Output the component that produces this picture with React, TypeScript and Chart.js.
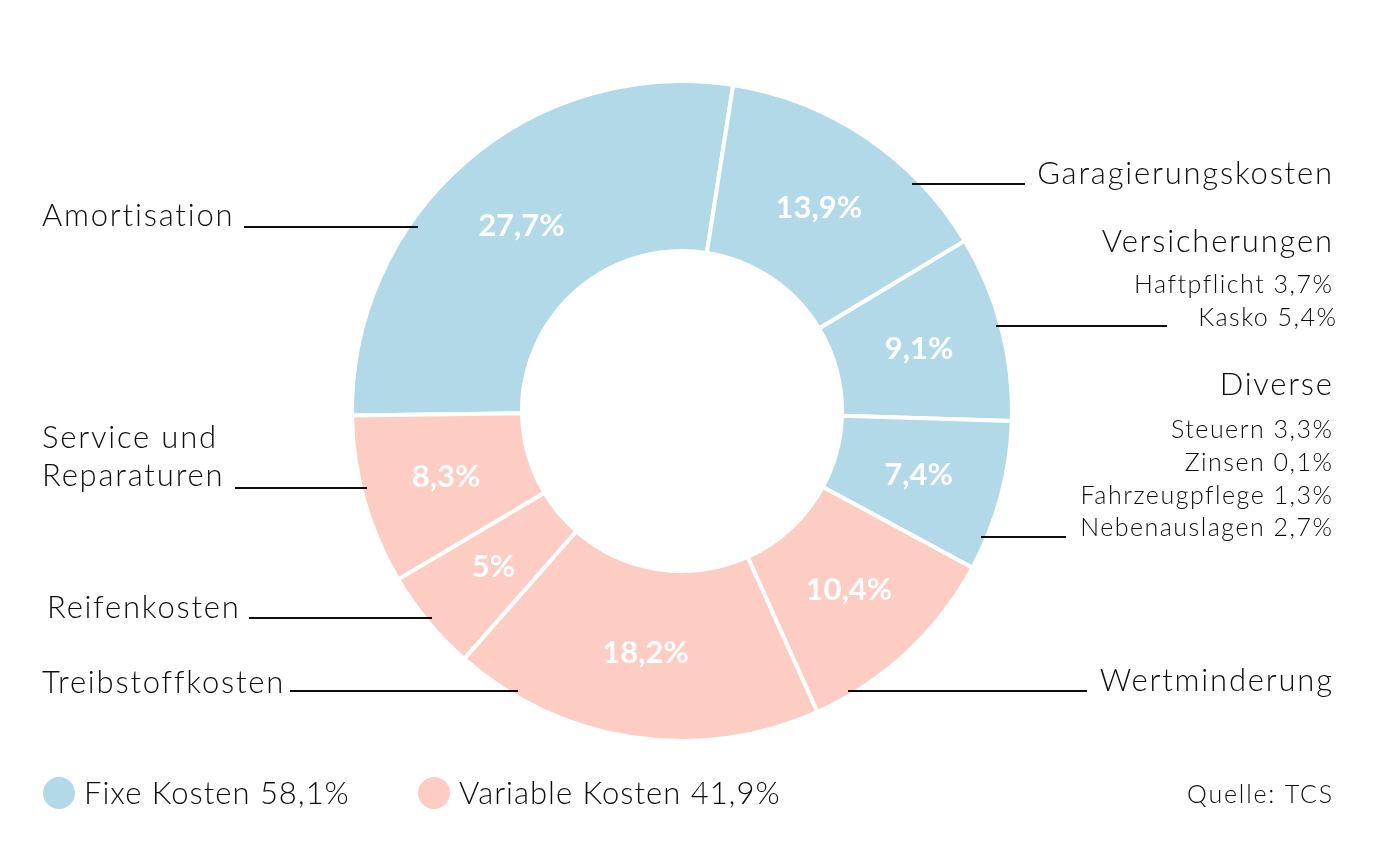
import React, { useEffect, useRef } from "react";
import { Chart, registerables } from "chart.js";

Chart.register(...registerables);

// Kostenanteile eines Autos (in %), im Uhrzeigersinn ab 9 Uhr
const categories = [
  "Amortisation",
  "Garagierungskosten",
  "Versicherungen",
  "Diverse",
  "Wertminderung",
  "Treibstoffkosten",
  "Reifenkosten",
  "Service und Reparaturen",
];
const shares = [27.7, 13.9, 9.1, 7.4, 10.4, 18.2, 5, 8.3];
// 0 = fixe Kosten, 1 = variable Kosten
const groupOf = [0, 0, 0, 0, 1, 1, 1, 1];

const groupNames = ["Fixe Kosten", "Variable Kosten"];
const groupTotals = [58.1, 41.9];

const versicherungDetails = ["Haftpflicht", "Kasko"];
const versicherungValues = [3.7, 5.4];
const diverseDetails = ["Steuern", "Zinsen", "Fahrzeugpflege", "Nebenauslagen"];
const diverseValues = [3.3, 0.1, 1.3, 2.7];

const sourceText = "Quelle: TCS";

const groupColors = ["#b1d9e8", "#fdcdc3"];
const FONT = "Lato, 'Open Sans', sans-serif";
const INK = "#0d0d0d";

const pct = (v: number) => String(v).replace(".", ",") + "%";

// Placement of the outside captions and their leader lines
type Caption = {
  lines: string[];
  align: "left" | "right";
  x: number;
  y: number;
  lineY: number;
  lineX1: number;
  lineX2: number;
};

const captionLayout: Caption[] = [
  { lines: ["Amortisation"], align: "left", x: 42, y: 216, lineY: 227, lineX1: 244, lineX2: 418 },
  { lines: ["Garagierungskosten"], align: "right", x: 1332, y: 174, lineY: 184, lineX1: 912, lineX2: 1025 },
  { lines: ["Versicherungen"], align: "right", x: 1332, y: 242, lineY: 326, lineX1: 996, lineX2: 1167 },
  { lines: ["Diverse"], align: "right", x: 1332, y: 385, lineY: 537, lineX1: 981, lineX2: 1066 },
  { lines: ["Wertminderung"], align: "right", x: 1332, y: 681, lineY: 691, lineX1: 848, lineX2: 1087 },
  { lines: ["Treibstoffkosten"], align: "left", x: 42, y: 683, lineY: 691, lineX1: 290, lineX2: 518 },
  { lines: ["Reifenkosten"], align: "left", x: 47, y: 608, lineY: 618, lineX1: 249, lineX2: 432 },
  { lines: ["Service und", "Reparaturen"], align: "left", x: 42, y: 438, lineY: 488, lineX1: 235, lineX2: 367 },
];

const versicherungRows = [285, 318];
const diverseRows = [430, 463, 496, 528];

// text with letter spacing; right-aligned text is shifted so the last glyph ends at x
function spacedText(ctx: any, text: string, x: number, y: number, spacing: number) {
  ctx.letterSpacing = `${spacing}px`;
  const shift = ctx.textAlign === "right" ? spacing : 0;
  ctx.fillText(text, x + shift, y);
  ctx.letterSpacing = "0px";
}

const captionPlugin = {
  id: "captions",
  afterDraw(chart: any) {
    const ctx: CanvasRenderingContext2D = chart.ctx;
    const arcs = chart.getDatasetMeta(0).data;
    ctx.save();

    // values inside the ring
    ctx.fillStyle = "#ffffff";
    ctx.font = `700 31px ${FONT}`;
    ctx.textAlign = "center";
    ctx.textBaseline = "middle";
    arcs.forEach((arc: any, i: number) => {
      const p = arc.tooltipPosition();
      ctx.fillText(pct(shares[i]), p.x, p.y);
    });

    // outside captions
    ctx.fillStyle = INK;
    ctx.strokeStyle = INK;
    ctx.lineWidth = 2;
    captionLayout.forEach((c, i) => {
      ctx.font = `300 31px ${FONT}`;
      ctx.textAlign = c.align;
      c.lines.forEach((line, k) => {
        const text = c.lines.length === 1 ? categories[i] : line;
        spacedText(ctx, text, c.x, c.y + k * 38, 1.8);
      });
      ctx.beginPath();
      ctx.moveTo(c.lineX1, c.lineY);
      ctx.lineTo(c.lineX2, c.lineY);
      ctx.stroke();
    });

    ctx.font = `300 25px ${FONT}`;
    ctx.textAlign = "right";
    versicherungDetails.forEach((d, k) => {
      spacedText(ctx, `${d} ${pct(versicherungValues[k])}`, k === 1 ? 1336 : 1332, versicherungRows[k], 1.5);
    });
    diverseDetails.forEach((d, k) => {
      spacedText(ctx, `${d} ${pct(diverseValues[k])}`, 1332, diverseRows[k], 1.5);
    });

    // legend
    ctx.textAlign = "left";
    ctx.font = `300 31px ${FONT}`;
    const legendX = [59, 434];
    groupNames.forEach((g, k) => {
      ctx.fillStyle = groupColors[k];
      ctx.beginPath();
      ctx.arc(legendX[k], 793, 16, 0, Math.PI * 2);
      ctx.fill();
      ctx.fillStyle = INK;
      spacedText(ctx, `${g} ${pct(groupTotals[k])}`, legendX[k] + 25, 794, 1.0);
    });

    ctx.font = `300 25px ${FONT}`;
    ctx.textAlign = "right";
    spacedText(ctx, sourceText, 1332, 795, 1.8);

    ctx.restore();
  },
};

export default function App() {
  const canvasRef = useRef<HTMLCanvasElement | null>(null);

  useEffect(() => {
    if (!canvasRef.current) return;
    const chart = new Chart(canvasRef.current, {
      type: "doughnut",
      data: {
        labels: categories,
        datasets: [
          {
            data: shares,
            backgroundColor: groupOf.map((g) => groupColors[g]),
            borderColor: "#ffffff",
            borderWidth: 4,
            hoverOffset: 0,
          },
        ],
      },
      options: {
        responsive: false,
        animation: false,
        rotation: -90.8,
        cutout: "48.5%",
        layout: { padding: { top: 79, bottom: 111, left: 0, right: 36 } },
        plugins: {
          legend: { display: false },
          tooltip: { enabled: false },
        },
      },
      plugins: [captionPlugin],
    });
    return () => chart.destroy();
  }, []);

  return (
    <div style={{ position: "absolute", left: 0, top: 0, width: 1400, height: 854, background: "#ffffff" }}>
      <canvas ref={canvasRef} width={1400} height={854} />
    </div>
  );
}
